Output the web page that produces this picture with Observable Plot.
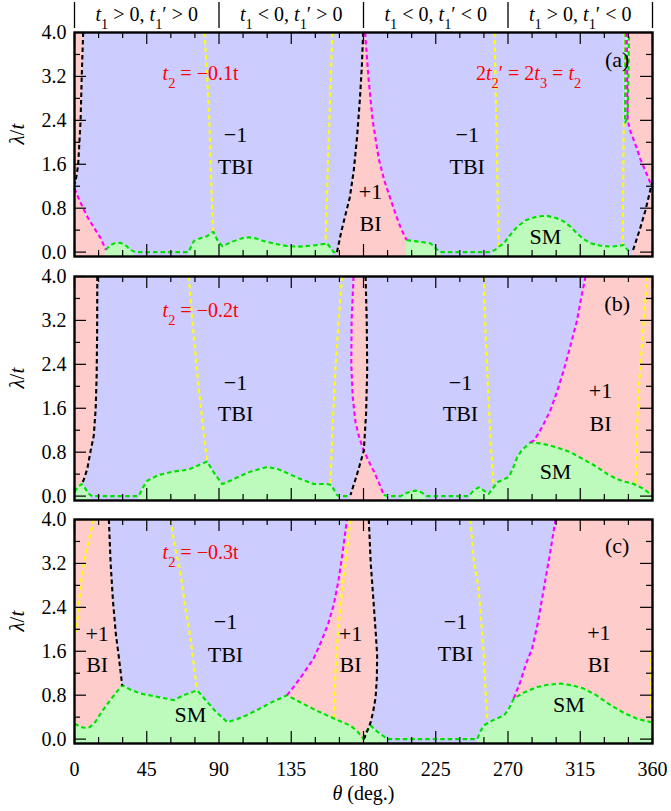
<!DOCTYPE html>
<html><head><meta charset="utf-8">
<script src="https://cdn.jsdelivr.net/npm/d3@7"></script>
<script src="https://cdn.jsdelivr.net/npm/@observablehq/plot@0.6"></script>
<style>
html,body{margin:0;padding:0;background:#fff;}
#chart{width:671px;}
#chart svg{display:block;}
#chart svg text{font-family:'Liberation Serif','DejaVu Serif',serif;}
</style></head><body><div id="chart"></div>
<script>
// ---------- axis / tick data ----------
const Y_MIN = -0.08;
const xTicks = [0,45,90,135,180,225,270,315,360];
const yTicks = [0.0,0.8,1.6,2.4,3.2,4.0];
const xMinorTicks = d3.range(0, 361, 15);
const yMinorTicks = d3.range(0, 4.01, 0.4);
const headerTexts = ["*t*_1 > 0, *t*_1′ > 0", "*t*_1 < 0, *t*_1′ > 0", "*t*_1 < 0, *t*_1′ < 0", "*t*_1 > 0, *t*_1′ < 0"];
const headerTheta = [45,135,225,315];
const dividerTheta = [0,90,180,270,360];

// ---------- panel (a): t2 = -0.1t ----------
const aBlackL = [[5.4,4.0],[4.5,3.2],[3.8,2.4],[2.3,1.6],[1.2,1.38],[0.3,1.25]];
const aMagL   = [[0,1.16],[3,0.95],[7.9,0.65],[12,0.45],[16.2,0.26],[19.5,0.04]];
const aYel1   = [[81,4.0],[82.6,3.2],[84,2.4],[84.8,1.6],[85.6,0.9],[86.4,0.37]];
const aYel2   = [[160.5,4.0],[159.5,3.0],[158.3,2.0],[157.2,1.0],[156.4,0.18]];
const aGreen1 = [[19.5,0.04],[22,0.12],[25,0.16],[28.6,0.17],[32,0.12],[34.8,0.04],[38,0.0],[71,0.0],[74.3,0.2],[78,0.25],[82.6,0.29],[86.4,0.37],[89,0.22],[92,0.11],[99.2,0.2],[104,0.25],[108.6,0.27],[113,0.25],[117.9,0.2],[125,0.15],[132.4,0.11],[140,0.1],[149,0.12],[157.3,0.16],[159.5,0.08],[161.4,0.0],[163.5,0.0]];
const aBlack2 = [[163.5,0.0],[166,0.35],[168.5,0.65],[171.5,1.0],[174,1.5],[176,2.1],[177.8,2.8],[179,3.4],[179.8,4.0]];
const aMag2   = [[181,4.0],[183,3.2],[185.7,2.4],[189.5,1.7],[193,1.3],[197,0.95],[200.5,0.65],[203.5,0.42],[206.8,0.22]];
const aGreen2 = [[206.8,0.22],[212,0.2],[217,0.18],[221.7,0.16],[224,0.1],[226.9,0.01],[229,0.0],[259,0.0],[262,0.04],[264.3,0.1],[267.4,0.16],[271,0.3],[275.7,0.46],[281,0.58],[288.2,0.65],[294.3,0.66],[300,0.62],[304.7,0.56],[309,0.46],[313,0.34],[317,0.24],[321.4,0.16],[327,0.12],[333.9,0.1],[338,0.11],[342.2,0.13],[344.2,0.05],[346,0.0]];
const aYel3   = [[261.6,4.0],[262.3,3.0],[263,2.0],[263.6,1.0],[264.3,0.1]];
const aYel4   = [[342.6,4.0],[342.3,3.0],[342,2.0],[341.7,1.0],[341.4,0.12]];
const aMag3   = [[344,4.0],[344.2,3.0],[344.5,2.4],[346.3,2.2],[349.5,1.95],[352.5,1.69],[356,1.45],[358.7,1.26],[360,1.18]];
const aBlackR = [[360,1.3],[358,1.05],[355.5,0.75],[352.5,0.45],[349.5,0.18],[347.5,0.0]];
const aSliver = [[343.2,4.0],[343.0,3.2],[342.9,2.36],[343.8,2.4],[344.6,2.55],[345.0,3.2],[345.4,4.0]];

// ---------- panel (b): t2 = -0.2t ----------
const bBlackL = [[14.2,4.0],[14.1,3.0],[13.8,2.2],[13.2,1.6],[12,1.1],[10.2,0.85],[8,0.5],[5.8,0.3],[4.5,0.22]];
const bGreen1 = [[0,0.08],[2.5,0.18],[4.5,0.22],[6.5,0.15],[8.5,0.05],[11,0.0],[40,0.0],[42.5,0.15],[45.3,0.28],[52,0.38],[61.9,0.45],[68,0.47],[72.3,0.5],[77,0.56],[82.6,0.63],[87,0.42],[92,0.22],[97,0.28],[103.4,0.37],[110,0.45],[120,0.53],[126,0.5],[132.4,0.42],[140,0.32],[149,0.22],[157.3,0.22],[160,0.2],[163.5,0.02],[165,0.0],[171.5,0.0]];
const bYel1   = [[71.2,4.0],[72.8,3.4],[74.3,2.9],[76.5,2.2],[78.5,1.68],[80.5,1.15],[82.6,0.63]];
const bYel2   = [[166.7,4.0],[164.5,3.2],[162.5,2.3],[160.8,1.3],[159.4,0.24]];
const bMagC   = [[173.8,4.0],[172.6,3.2],[172.4,2.4],[173.3,1.8],[175,1.35],[177.5,1.05],[180.2,0.83],[183.5,0.62],[186.5,0.45],[189.5,0.25],[192.6,0.02]];
const bBlackC = [[181.3,4.0],[182,3.2],[182.3,2.3],[181.6,1.5],[180.2,0.83],[178,0.6],[175.5,0.35],[171.9,0.02]];
const bGreen2 = [[192.6,0.02],[196,0.0],[203,0.0],[207,0.06],[212.4,0.1],[216,0.07],[219.7,0.0],[245.6,0.0],[248.5,0.1],[251.8,0.16],[255,0.1],[258,0.04],[260,0.12],[263.2,0.25],[267,0.3],[270.5,0.35],[273,0.5],[275.7,0.71],[279,0.85],[284,0.98],[290,0.96],[296.4,0.92],[302,0.87],[308.9,0.8],[317,0.67],[325.5,0.53],[332,0.4],[337.9,0.31],[343,0.26],[348.3,0.22],[354,0.14],[358.7,0.04],[360,0.02]];
const bMagR   = [[318.3,4.0],[315.5,3.6],[313,3.2],[309,2.75],[304.7,2.29],[300.5,1.9],[296.4,1.56],[292,1.3],[288.5,1.12],[286,1.01],[284,0.98]];
const bYel3   = [[254.9,4.0],[256,3.0],[257.5,2.0],[259.2,1.0],[261.1,0.16]];
const bYel4   = [[356.7,4.0],[354.6,3.2],[353,2.6],[351.5,2.0],[350.3,1.2],[349.7,0.6],[349.5,0.22]];

// ---------- panel (c): t2 = -0.3t ----------
const cYelL   = [[12,4.0],[9.5,3.7],[6.8,3.35],[5,3.05],[3.7,2.75],[2.5,2.4],[1.7,2.13],[0.8,1.95]];
const cBlackL = [[21.4,4.0],[22.5,3.2],[24,2.5],[25.8,1.9],[27.6,1.5],[29,1.15],[29.7,0.98]];
const cGreen1 = [[0,0.28],[4,0.22],[7,0.2],[9.6,0.22],[12.9,0.31],[17,0.5],[22,0.7],[26,0.85],[29.7,0.98],[35,0.9],[41.1,0.83],[50,0.78],[61.9,0.71],[68,0.8],[76.4,0.89],[82,0.7],[88,0.5],[95.1,0.31],[100,0.35],[107.5,0.44],[115,0.55],[122,0.66],[128,0.74],[132.4,0.8],[140,0.68],[150,0.53],[161.3,0.38],[166,0.32],[171.6,0.25],[176,0.15],[180,0.0]];
const cYel2   = [[59.8,4.0],[62.5,3.5],[66,3.04],[69,2.4],[72.3,1.83],[74.5,1.3],[76.4,0.89]];
const cMagL   = [[132.4,0.8],[137,0.97],[142,1.17],[149,1.47],[154,1.8],[158,2.1],[161.4,2.44],[164.5,2.9],[167,3.4],[169.7,4.0]];
const cYel3   = [[171.9,4.0],[169.5,3.4],[167.5,2.9],[165.7,2.44],[164,1.9],[162.5,1.2],[161.5,0.4]];
const cBlackC = [[183.3,4.0],[184.5,3.2],[186.4,2.44],[187.7,1.9],[188.5,1.53],[188.3,1.1],[187.5,0.75],[186,0.5],[184.4,0.3],[182,0.12],[180.2,0.0]];
const cGreen2 = [[180.2,0.0],[182,0.15],[184.4,0.25],[188,0.15],[192.7,0.05],[195,0.0],[250.8,0.0],[253,0.15],[255,0.25],[261,0.35],[267.4,0.43],[270.5,0.55],[273.6,0.74],[280,0.85],[288.2,0.95],[295,0.99],[302.7,1.01],[310,0.98],[317.2,0.92],[325,0.8],[333.9,0.62],[342,0.48],[350.5,0.37],[356,0.33],[360,0.3]];
const cYel4   = [[246.6,4.0],[248.5,3.3],[251.7,2.74],[253.5,2.1],[254.9,1.53],[256,0.9],[257,0.38]];
const cMagR   = [[273.6,0.74],[277.6,1.04],[281,1.35],[285,1.65],[288.5,2.1],[292.3,2.74],[296,3.35],[299.6,4.0]];
const cYelR   = [[359.2,1.6],[359,1.0],[358.8,0.5]];

// ---------- annotations ----------
const aLabels = [{t:"−1",x:100.3,y:2.13},{t:"TBI",x:100.3,y:1.55},{t:"−1",x:244.6,y:2.13},{t:"TBI",x:244.6,y:1.55},{t:"+1",x:184.4,y:1.1},{t:"BI",x:184.4,y:0.52},{t:"SM",x:293.3,y:0.28},{t:"(a)",x:338,y:3.5}];
const aNotes  = [{t:"*t*_2 = −0.1t",x:78.5,y:3.25},{t:"2*t*_2′ = 2*t*_3 = *t*_2",x:282.8,y:3.25}];
const bLabels = [{t:"−1",x:100.3,y:2.07},{t:"TBI",x:100.3,y:1.5},{t:"−1",x:240.4,y:2.07},{t:"TBI",x:240.4,y:1.5},{t:"+1",x:327.6,y:1.92},{t:"BI",x:327.6,y:1.32},{t:"SM",x:299.6,y:0.44},{t:"(b)",x:338,y:3.5}];
const bNotes  = [{t:"*t*_2 = −0.2t",x:78.5,y:3.38}];
const cLabels = [{t:"+1",x:14.1,y:1.92},{t:"BI",x:14.1,y:1.35},{t:"−1",x:94,y:2.13},{t:"TBI",x:94,y:1.53},{t:"SM",x:72.2,y:0.44},{t:"+1",x:171.9,y:1.92},{t:"BI",x:171.9,y:1.35},{t:"−1",x:237.3,y:2.14},{t:"TBI",x:237.3,y:1.55},{t:"+1",x:326.6,y:1.93},{t:"BI",x:326.6,y:1.35},{t:"SM",x:307.9,y:0.62},{t:"(c)",x:338,y:3.52}];
const cNotes  = [{t:"*t*_2 = −0.3t",x:78.5,y:3.4}];

// ---------- styles ----------
const FONT = "'Liberation Serif', 'DejaVu Serif', serif";
const PINK = "#ffcccc", BLUE = "#ccccff", GFILL = "#bcfbbc";
const GLINE = "#00e000", MAG = "#ff00ff", YEL = "#ffff00", BLK = "#000000";
const W = 671, ML = 74, MR = 19;
const PXX = (W - ML - MR) / 360, PXY = 224 / (4 - Y_MIN);

const panels = [
  { bg: BLUE, other: PINK,
    polys: [[[0,4.0], ...aBlackL, [0,1.25]],
            [...aMagL, [19.5,Y_MIN], [0,Y_MIN]],
            [[163.5,Y_MIN], ...aBlack2, ...aMag2, [206.8,Y_MIN]],
            [...aMag3, [360,4.0]],
            [...aBlackR, [347.5,Y_MIN], [360,Y_MIN]]],
    greens: [aGreen1, aGreen2], greenPolys: [aSliver],
    lines: [[aYel1,YEL],[aYel2,YEL],[aYel3,YEL],[aYel4,YEL],[aGreen1,GLINE],[aGreen2,GLINE],[aSliver,GLINE],
            [aBlackL,BLK],[aMagL,MAG],[aBlack2,BLK],[aMag2,MAG],[aMag3,MAG],[aBlackR,BLK]],
    labels: aLabels, notes: aNotes, top: 32, height: 260, header: true },
  { bg: BLUE, other: PINK,
    polys: [[[0,4.0], ...bBlackL, ...bGreen1.slice(0,2).reverse()],
            [...bMagC.slice(0,7), ...bBlackC.slice(0,5).reverse()],
            [...bBlackC.slice(4), [171.9,Y_MIN], [192.6,Y_MIN], ...bMagC.slice(6).reverse()],
            [...bMagR, [284,Y_MIN], [360,Y_MIN], [360,4.0]]],
    greens: [bGreen1, bGreen2], greenPolys: [],
    lines: [[bYel1,YEL],[bYel2,YEL],[bYel3,YEL],[bYel4,YEL],[bGreen1,GLINE],[bGreen2,GLINE],
            [bBlackL,BLK],[bMagC,MAG],[bBlackC,BLK],[bMagR,MAG]],
    labels: bLabels, notes: bNotes, top: 16, height: 244 },
  { bg: PINK, other: BLUE,
    polys: [[...cBlackL, [29.7,Y_MIN], [132.4,Y_MIN], ...cMagL],
            [...cBlackC, [180.2,Y_MIN], [273.6,Y_MIN], ...cMagR]],
    greens: [cGreen1, cGreen2], greenPolys: [],
    lines: [[cYelL,YEL],[cYel2,YEL],[cYel3,YEL],[cYel4,YEL],[cYelR,YEL],[cGreen1,GLINE],[cGreen2,GLINE],
            [cBlackL,BLK],[cMagL,MAG],[cBlackC,BLK],[cMagR,MAG]],
    labels: cLabels, notes: cNotes, top: 15, height: 307, xAxis: true }
];

function mathify(s) {
  const esc = v => v.replace(/&/g,"&amp;").replace(/</g,"&lt;").replace(/>/g,"&gt;");
  let out = ""; const re = /\*([^*]+)\*|_(.)|([^*_]+)/g; let m;
  while ((m = re.exec(s))) {
    if (m[1]) out += `<tspan font-style="italic">${esc(m[1])}</tspan>`;
    else if (m[2]) out += `<tspan baseline-shift="sub" font-size="72%">${esc(m[2])}</tspan>`;
    else out += esc(m[3]);
  }
  return out;
}

const toRows = (list) => list.flatMap((pts, i) => pts.map(([x, y]) => ({x, y, id: i})));

const chart = document.getElementById("chart");
panels.forEach((p) => {
  const marginBottom = p.height - p.top - 224;
  const marks = [];
  marks.push(Plot.frame({fill: p.bg, stroke: null}));
  marks.push(Plot.line(toRows(p.polys), {x: "x", y: "y", z: "id", fill: p.other, stroke: p.other, strokeWidth: 0.6}));
  const greenRows = p.greens.flatMap((pts, i) => pts.map(([x, y]) => ({x, y1: Y_MIN, y2: y <= 0.005 ? Y_MIN : y, id: i})));
  marks.push(Plot.areaY(greenRows, {x: "x", y1: "y1", y2: "y2", z: "id", fill: GFILL}));
  if (p.greenPolys.length) marks.push(Plot.line(toRows(p.greenPolys), {x: "x", y: "y", z: "id", fill: GFILL, stroke: null}));
  for (const [pts, color] of p.lines) {
    marks.push(Plot.line(pts, {x: d => d[0], y: d => d[1], stroke: color, strokeWidth: 2.1, strokeDasharray: "4.5,3", strokeLinecap: "butt"}));
  }
  // inward ticks
  marks.push(Plot.ruleX(xMinorTicks, {x: d => d, y1: Y_MIN, y2: d => Y_MIN + (d % 45 === 0 ? 12 : 6) / PXY, stroke: "black", strokeWidth: 1.2}));
  marks.push(Plot.ruleX(xMinorTicks, {x: d => d, y1: d => 4 - (d % 45 === 0 ? 12 : 6) / PXY, y2: 4, stroke: "black", strokeWidth: 1.2}));
  marks.push(Plot.ruleY(yMinorTicks, {y: d => d, x1: 0, x2: d => (Math.round(d * 10) % 8 === 0 ? 12 : 6) / PXX, stroke: "black", strokeWidth: 1.2}));
  marks.push(Plot.ruleY(yMinorTicks, {y: d => d, x1: d => 360 - (Math.round(d * 10) % 8 === 0 ? 12 : 6) / PXX, x2: 360, stroke: "black", strokeWidth: 1.2}));
  marks.push(Plot.frame({stroke: "black", strokeWidth: 2.4}));
  marks.push(Plot.axisY({ticks: yTicks, tickSize: 0, tickPadding: 8, tickFormat: d => d.toFixed(1), label: null, fontSize: 20, fontFamily: FONT}));
  if (p.xAxis) {
    marks.push(Plot.axisX({ticks: xTicks, tickSize: 0, tickPadding: 18, label: null, fontSize: 20, fontFamily: FONT}));
    marks.push(Plot.text(["*θ* (deg.)"], {frameAnchor: "bottom", dy: 56, text: d => d, fontSize: 20, fontFamily: FONT}));
  }
  marks.push(Plot.text(["*λ*/*t*"], {frameAnchor: "left", rotate: -90, dx: -57, text: d => d, fontSize: 21, fontFamily: FONT}));
  marks.push(Plot.text(p.labels, {x: "x", y: "y", text: "t", fill: "black", fontSize: 22, fontFamily: FONT}));
  marks.push(Plot.text(p.notes, {x: "x", y: "y", text: "t", fill: "#ff0000", fontSize: 20, fontFamily: FONT}));
  if (p.header) {
    marks.push(Plot.ruleX(dividerTheta, {x: d => d, y1: 4 + 4 / PXY, y2: 4 + 30 / PXY, stroke: "black", strokeWidth: 1.3}));
    marks.push(Plot.text(headerTexts, {x: (d, i) => headerTheta[i], y: 4 + 18 / PXY, text: d => d, fontSize: 20, fontFamily: FONT}));
  }
  const svg = Plot.plot({
    width: W, height: p.height,
    marginLeft: ML, marginRight: MR, marginTop: p.top, marginBottom,
    x: {domain: [0, 360], axis: p.xAxis ? undefined : null},
    y: {domain: [Y_MIN, 4.0]},
    style: {fontFamily: FONT, fontSize: "20px", color: "black", background: "white", overflow: "visible"},
    marks
  });
  svg.querySelectorAll("text").forEach(t => {
    if (/[*_]/.test(t.textContent)) t.innerHTML = mathify(t.textContent);
  });
  chart.appendChild(svg);
});
</script>
</body></html>
